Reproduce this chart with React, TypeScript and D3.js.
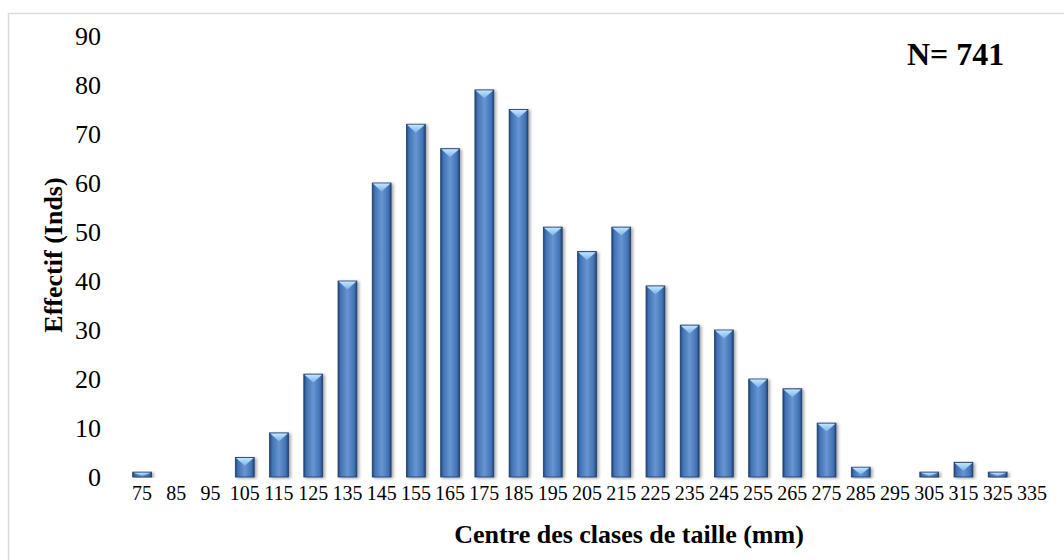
import React from "react";
import * as d3 from "d3";

const categories: string[] = ["75","85","95","105","115","125","135","145","155","165","175","185","195","205","215","225","235","245","255","265","275","285","295","305","315","325","335"];
const counts: number[] = [1,0,0,4,9,21,40,60,72,67,79,75,51,46,51,39,31,30,20,18,11,2,0,1,3,1,0];
const yTicks: number[] = [0,10,20,30,40,50,60,70,80,90];
const xTitle = "Centre des clases de taille (mm)";
const yTitle = "Effectif (Inds)";
const note = "N= 741";

const W = 1064;
const H = 560;
const FONT = "'Liberation Serif', 'Times New Roman', Times, serif";

export default function App() {
  const x = d3.scaleBand<string>().domain(categories).range([125, 1049]).paddingInner(0.45).paddingOuter(0.225);
  const y = d3.scaleLinear().domain([0, 90]).range([477, 36]);
  const bw = x.bandwidth();

  return (
    <svg width={W} height={H} style={{ position: "absolute", left: 0, top: 0, background: "#fff" }} fontFamily={FONT}>
      <defs>
        <linearGradient id="barBody" x1="0" y1="0" x2="1" y2="0">
          <stop offset="0" stopColor="#23467a" />
          <stop offset="0.14" stopColor="#4173b4" />
          <stop offset="0.5" stopColor="#6895d2" />
          <stop offset="0.86" stopColor="#4173b4" />
          <stop offset="1" stopColor="#23467a" />
        </linearGradient>
        <linearGradient id="barTop" x1="0" y1="0" x2="0" y2="1">
          <stop offset="0" stopColor="#c4e4fb" />
          <stop offset="1" stopColor="#78b2ec" />
        </linearGradient>
        <filter id="shadow" x="-50%" y="-20%" width="200%" height="140%">
          <feDropShadow dx="2" dy="1" stdDeviation="1.6" floodColor="#000" floodOpacity="0.35" />
        </filter>
        <filter id="lineShadow" x="-5%" y="-200%" width="110%" height="500%">
          <feDropShadow dx="0" dy="1.5" stdDeviation="1" floodColor="#000" floodOpacity="0.15" />
        </filter>
      </defs>

      <rect x={8.5} y={13.5} width={1200} height={700} fill="none" stroke="#d9d9d9" strokeWidth={1.5} />

      <line x1={124} x2={1051} y1={y(0) + 1} y2={y(0) + 1} stroke="#d9d9d9" strokeWidth={2.5} filter="url(#lineShadow)" />

      {categories.map((c, i) => {
        const v = counts[i];
        if (v <= 0) return null;
        const x0 = x(c)!;
        const top = y(v);
        const h = y(0) - top;
        const depth = Math.min(bw * 0.45, h * 0.75);
        return (
          <g key={c} filter="url(#shadow)">
            <rect x={x0} y={top} width={bw} height={h} fill="url(#barBody)" stroke="#1d3b66" strokeWidth={0.8} />
            <path
              d={`M${x0 + 0.6},${top + 0.6} L${x0 + bw - 0.6},${top + 0.6} L${x0 + bw / 2},${top + depth} Z`}
              fill="url(#barTop)"
            />
          </g>
        );
      })}

      {yTicks.map((t) => (
        <text key={t} x={101} y={y(t)} textAnchor="end" dominantBaseline="central" fontSize={26} fill="#000">
          {t}
        </text>
      ))}

      {categories.map((c) => (
        <text key={c} x={x(c)! + bw / 2} y={493} textAnchor="middle" dominantBaseline="central" fontSize={20} fill="#000">
          {c}
        </text>
      ))}

      <text x={629} y={543} textAnchor="middle" fontSize={26} fontWeight="bold" fill="#000">
        {xTitle}
      </text>

      <text transform={`translate(53,255) rotate(-90)`} textAnchor="middle" dominantBaseline="central" fontSize={26} fontWeight="bold" fill="#000">
        {yTitle}
      </text>

      <text x={907} y={65} fontSize={32} fontWeight="bold" fill="#000">
        {note}
      </text>
    </svg>
  );
}
